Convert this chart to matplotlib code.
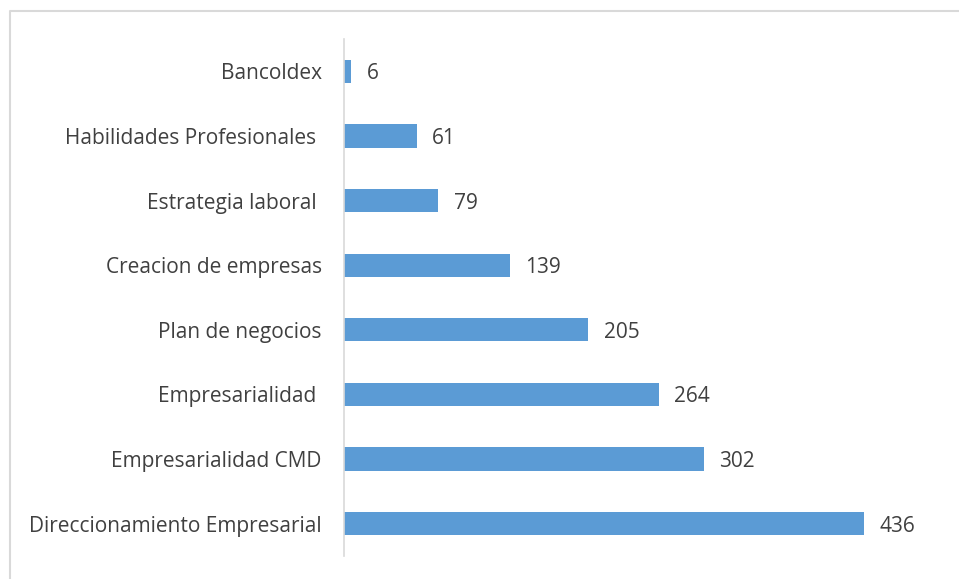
import matplotlib
matplotlib.use("Agg")
import matplotlib.pyplot as plt
from matplotlib.lines import Line2D

categories = ["Direccionamiento Empresarial", "Empresarialidad CMD", "Empresarialidad ",
              "Plan de negocios", "Creacion de empresas", "Estrategia laboral ",
              "Habilidades Profesionales ", "Bancoldex"]
values = [436, 302, 264, 205, 139, 79, 61, 6]

plt.rcParams['font.family'] = ['Open Sans', 'DejaVu Sans']

fig = plt.figure(figsize=(9.59, 5.79), dpi=100)
fig.lines.append(Line2D([9.5/959, 9.5/959, 1.0], [0.0, 1 - 10.5/579, 1 - 10.5/579],
                        transform=fig.transFigure, color='#d9d9d9', linewidth=1.5))
ax = fig.add_axes([344/959, 23/579, 596/959, 517/579])
y = list(range(len(categories)))
ax.barh(y, values, height=0.36, color='#5b9bd5')
ax.set_xlim(0, 500)
ax.set_ylim(-0.5, len(categories) - 0.5)
ax.set_yticks(y)
ax.set_yticklabels(categories, fontsize=15, color='#404040', va='center_baseline')
ax.tick_params(axis='y', length=0, pad=16)
ax.set_xticks([])
for s in ['top', 'right', 'bottom']:
    ax.spines[s].set_visible(False)
ax.spines['left'].set_color('#d9d9d9')
ax.spines['left'].set_linewidth(1.2)
for yi, v in zip(y, values):
    ax.text(v + 13, yi, str(v), va='center_baseline', ha='left', fontsize=15, color='#404040')
fig.savefig("out.png", dpi=100)
